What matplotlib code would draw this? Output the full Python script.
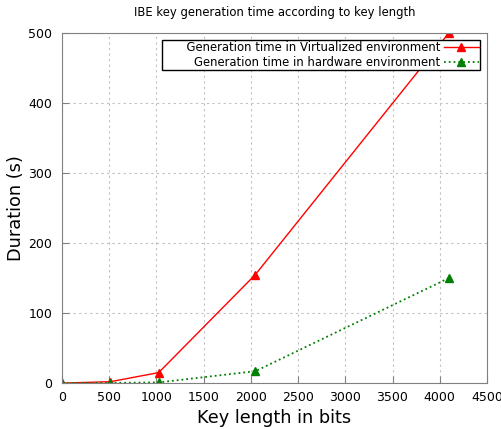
import matplotlib
matplotlib.use("Agg")
import matplotlib.pyplot as plt

# key length in bits
key_bits = [0, 512, 1024, 2048, 4096]
# generation time (s)
virt_time = [0, 2, 15, 155, 500]
hw_time = [0, 0.3, 1, 17, 150]

fig = plt.figure(figsize=(5.02, 4.29), dpi=100)
ax = fig.add_axes([0.1235, 0.107, 0.8465, 0.816])

ax.plot(key_bits, virt_time, color='red', linestyle='-', linewidth=1,
        marker='^', markersize=6,
        label='      Generation time in Virtualized environment')
ax.plot(key_bits, hw_time, color='green', linestyle=':', linewidth=1.3,
        marker='^', markersize=6, label='Generation time in hardware environment')

ax.set_xlim(0, 4500)
ax.set_ylim(0, 500)
ax.set_xticks(range(0, 4501, 500))
ax.set_yticks(range(0, 501, 100))
ax.tick_params(labelsize=9, direction='in', length=5, width=0.8, color='#808080')
ax.tick_params(axis='x', pad=6)
ax.tick_params(axis='y', pad=7)
ax.grid(True, linestyle=(0, (2, 3)), color='#c0c0c0', linewidth=0.8)
for s in ax.spines.values():
    s.set_color('#808080')
    s.set_linewidth(0.8)

ax.set_title('IBE key generation time according to key length', fontsize=8.4, pad=12)
ax.set_xlabel('Key length in bits', fontsize=12.8, labelpad=3.5)
ax.set_ylabel('Duration (s)', fontsize=12.8, labelpad=2)

leg = ax.legend(loc='upper right', bbox_to_anchor=(480 / 502, 1 - 40 / 429),
                bbox_transform=fig.transFigure, markerfirst=False,
                fontsize=8.4, frameon=True, fancybox=False, borderpad=0.12,
                labelspacing=0.12, handlelength=3.0, handletextpad=0.3,
                borderaxespad=0)
leg.get_frame().set_edgecolor('black')
leg.get_frame().set_linewidth(1)
leg.get_frame().set_alpha(1)
for t in leg.get_texts():
    t.set_ha('right')

fig.savefig('out.png', dpi=100)
